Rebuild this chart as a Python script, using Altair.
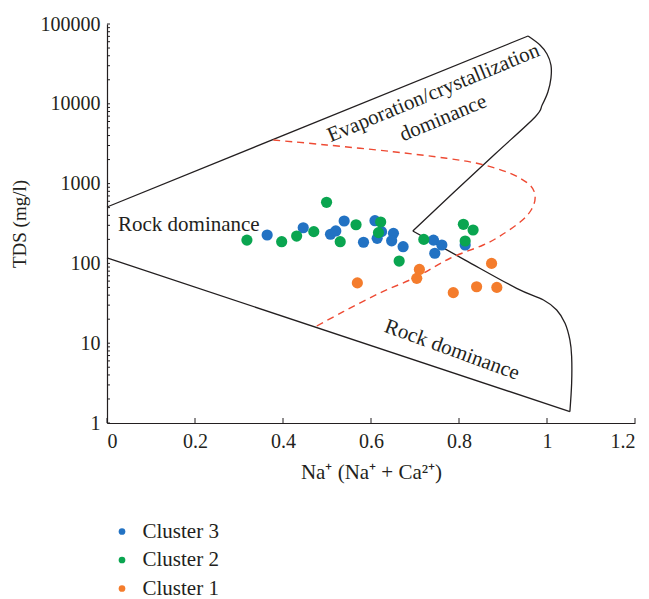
import altair as alt
import pandas as pd

# ---- sample data (Na/(Na+Ca), TDS mg/l) ----
c3_x = [0.364, 0.446, 0.508, 0.520, 0.539, 0.583, 0.609, 0.624, 0.614, 0.651, 0.647, 0.673, 0.742, 0.761, 0.745, 0.814]
c3_y = [227, 280, 232, 255, 340, 184, 343, 250, 206, 238, 192, 162, 196, 170, 134, 170]
c2_x = [0.318, 0.397, 0.431, 0.470, 0.499, 0.530, 0.566, 0.622, 0.617, 0.664, 0.720, 0.810, 0.832, 0.814]
c2_y = [196, 187, 220, 250, 583, 187, 305, 330, 243, 107, 200, 309, 262, 191]
c1_x = [0.569, 0.710, 0.704, 0.787, 0.840, 0.874, 0.886]
c1_y = [57, 84, 65, 43, 51, 100, 50]
clusters = ["Cluster 3", "Cluster 2", "Cluster 1"]
cluster_colors = ["#2272c3", "#0aa550", "#f47c2c"]

# ---- Gibbs boundary curves ----
upper_x = [0.0, 0.957]
upper_y = [509, 70700]
right_top_x = [0.957, 0.984, 1.000, 1.009, 1.009, 1.002, 0.989, 0.973, 0.882, 0.789, 0.695]
right_top_y = [70700, 54600, 42100, 30600, 21000, 14060, 9660, 6840, 2350, 785, 255]
right_low_x = [0.695, 0.814, 0.931, 0.992, 1.022, 1.041, 1.052, 1.056, 1.056, 1.052]
right_low_y = [255, 110, 48.7, 34.8, 26.1, 17.8, 11.0, 6.8, 3.15, 1.39]
lower_x = [0.0, 1.052]
lower_y = [117, 1.39]
dash_x = [0.378, 0.499, 0.650, 0.772, 0.848, 0.916, 0.961, 0.973, 0.964, 0.939, 0.893, 0.855, 0.780, 0.704, 0.620, 0.537, 0.473]
dash_y = [3520, 3050, 2510, 2075, 1760, 1346, 960, 679, 467, 330, 220, 170, 116, 68, 42.6, 24.8, 16]

# ---- annotations ----
ann_text = ["Evaporation/crystallization", "dominance", "Rock dominance", "Rock dominance"]
ann_x = [0.742, 0.764, 0.186, 0.784]
ann_y = [13540, 6580, 303, 8.2]
ann_angle = [337.5, 337.5, 0, 20]

# ---- axis ticks ----
x_ticks = [0, 0.2, 0.4, 0.6, 0.8, 1.0, 1.2]
y_ticks = [1, 10, 100, 1000, 10000, 100000]
y_minor = [m * 10 ** d for d in range(5) for m in range(1, 10)] + [100000]

FONT = "Liberation Serif"
INK = "#231f20"

pts = pd.DataFrame(
    {"x": c3_x + c2_x + c1_x,
     "y": c3_y + c2_y + c1_y,
     "Cluster": [clusters[0]] * len(c3_x) + [clusters[1]] * len(c2_x) + [clusters[2]] * len(c1_x)}
)

rows = []
for seg, xs, ys in [("upper", upper_x, upper_y), ("rt", right_top_x, right_top_y),
                    ("rl", right_low_x, right_low_y), ("lower", lower_x, lower_y)]:
    for i, (a, b) in enumerate(zip(xs, ys)):
        rows.append({"x": a, "y": b, "seg": seg, "i": i})
black = pd.DataFrame(rows)
dash = pd.DataFrame({"x": dash_x, "y": dash_y, "i": list(range(len(dash_x)))})
ann = pd.DataFrame({"t": ann_text, "x": ann_x, "y": ann_y, "a": ann_angle})
xt = pd.DataFrame({"x": x_ticks})
yt = pd.DataFrame({"y": y_minor})

xscale = alt.Scale(domain=[0, 1.2], nice=False, zero=False)
yscale = alt.Scale(type="log", domain=[1, 100000], nice=False)
xaxis = alt.Axis(values=x_ticks, format="~g", title="Na\u207a (Na\u207a + Ca\u00b2\u207a)",
                 labelPadding=8, titlePadding=10, titleFontSize=21)
yaxis = alt.Axis(values=y_ticks, format="d", title="TDS (mg/l)", labelPadding=7,
                 titleFontSize=19, titleX=-88, titleY=199.5, titleBaseline="middle",
                 titleAlign="center", titleAngle=270)

X = alt.X("x:Q", scale=xscale, axis=xaxis)
Y = alt.Y("y:Q", scale=yscale, axis=yaxis)

black_lines = alt.Chart(black).mark_line(color=INK, strokeWidth=1.3, interpolate="cardinal").encode(
    x=X, y=Y, detail="seg:N", order="i:Q")
dash_line = alt.Chart(dash).mark_line(color="#ee4a33", strokeWidth=1.4, strokeDash=[7, 5],
                                      interpolate="cardinal").encode(x=X, y=Y, order="i:Q")
points = alt.Chart(pts).mark_circle(size=125, opacity=1).encode(
    x=X, y=Y,
    color=alt.Color("Cluster:N", scale=alt.Scale(domain=clusters, range=cluster_colors),
                    legend=alt.Legend(title=None, orient="none", legendX=4.5, legendY=497,
                                      symbolSize=45, symbolType="circle", symbolStrokeWidth=0,
                                      labelFont=FONT, labelFontSize=21, labelColor=INK,
                                      rowPadding=6.5, labelOffset=10, padding=0)))
texts = alt.Chart(ann).mark_text(font=FONT, fontSize=21, color=INK, align="center",
                                 baseline="middle").encode(
    x=X, y=Y, text="t:N", angle=alt.Angle("a:Q", scale=None))
xtick_layer = alt.Chart(xt).mark_rule(color=INK, strokeWidth=1).encode(
    x=X, y=alt.value(399), y2=alt.value(394))
ytick_layer = alt.Chart(yt).mark_rule(color=INK, strokeWidth=1).encode(
    y=Y, x=alt.value(0), x2=alt.value(3))

chart = alt.layer(black_lines, dash_line, xtick_layer, ytick_layer, texts, points).properties(
    width=528, height=399,
    autosize=alt.AutoSizeParams(type="none"),
    padding={"left": 99, "top": 16, "right": 6, "bottom": 177},
).configure_view(stroke=None).configure_axis(
    grid=False, ticks=False, domainColor=INK, domainWidth=1.2,
    labelFont=FONT, labelFontSize=20, labelColor=INK,
    titleFont=FONT, titleColor=INK, titleFontWeight="normal",
)

chart.save("out.html", embed_options={"renderer": "svg", "actions": False})
